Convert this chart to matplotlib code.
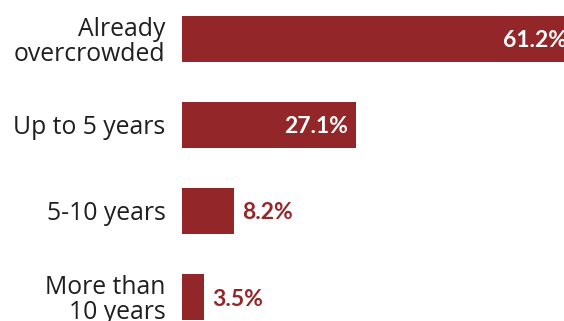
import numpy as np
import matplotlib
matplotlib.use('Agg')
import matplotlib.pyplot as plt
from matplotlib.transforms import offset_copy

# Share of respondents by time until overcrowding
categories = ['Already\novercrowded', 'Up to 5 years', '5-10 years', 'More than\n10 years']
shares = [61.2, 27.1, 8.2, 3.5]
value_labels = ['61.2%', '27.1%', '8.2%', '3.5%']

BAR_COLOR = '#932628'
TEXT_COLOR = '#1f1f1f'

W, H, DPI = 564, 321, 100
fig = plt.figure(figsize=(W / DPI, H / DPI), dpi=DPI)

# axes run past the right edge of the figure, so the longest bar is cut off
px_per_unit = 6.43
xmax = 70
left = 181.5 / W
ax = fig.add_axes([left, 0, xmax * px_per_unit / W, 1])

step = 86.0
y = np.arange(len(categories))
ax.barh(y, shares, height=46 / step, color=BAR_COLOR, left=0)
ax.set_xlim(0, xmax)
ax.set_ylim(3 + (H - 297) / step, -39 / step)

for yi, v, lab in zip(y, shares, value_labels):
    if v > 20:
        tr = offset_copy(ax.transData, fig=fig, x=-8, y=0, units='dots')
        ax.text(v, yi, lab, transform=tr, ha='right', va='center_baseline',
                color='white', fontsize=16.5, fontweight='bold', family='Lato')
    else:
        tr = offset_copy(ax.transData, fig=fig, x=8, y=0, units='dots')
        ax.text(v, yi, lab, transform=tr, ha='left', va='center_baseline',
                color=BAR_COLOR, fontsize=16.5, fontweight='bold', family='Lato')

ax.set_yticks(y)
ax.set_yticklabels(categories, fontsize=17.8, family='Open Sans', color=TEXT_COLOR,
                   linespacing=1.0)
ax.tick_params(axis='y', length=0, pad=11.5)
ax.tick_params(axis='x', bottom=False, labelbottom=False)
for s in ax.spines.values():
    s.set_visible(False)

fig.savefig('out.png', dpi=DPI)
